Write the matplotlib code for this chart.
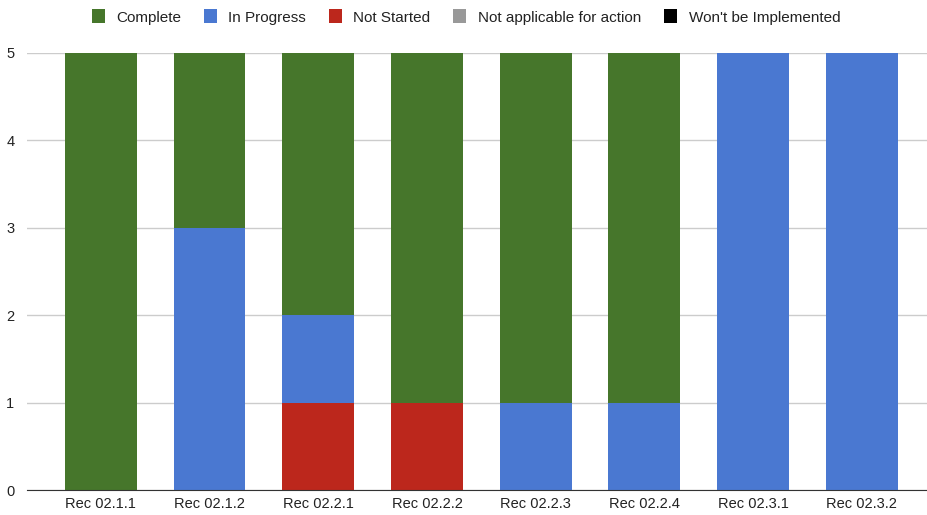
import numpy as np
import matplotlib
matplotlib.use("Agg")
import matplotlib.pyplot as plt
from matplotlib.patches import Patch

categories = ["Rec 02.1.1", "Rec 02.1.2", "Rec 02.2.1", "Rec 02.2.2",
              "Rec 02.2.3", "Rec 02.2.4", "Rec 02.3.1", "Rec 02.3.2"]
not_started = [0, 0, 1, 1, 0, 0, 0, 0]
in_progress = [0, 3, 1, 0, 1, 1, 5, 5]
complete = [5, 2, 3, 4, 4, 4, 0, 0]
not_applicable = [0, 0, 0, 0, 0, 0, 0, 0]
wont_implement = [0, 0, 0, 0, 0, 0, 0, 0]

legend_labels = ["Complete", "In Progress", "Not Started",
                 "Not applicable for action", "Won't be Implemented"]
colors = {"Complete": "#46762b", "In Progress": "#4a78d1", "Not Started": "#bc271c",
          "Not applicable for action": "#999999", "Won't be Implemented": "#000000"}

plt.rcParams["font.family"] = ["Liberation Sans", "DejaVu Sans"]

fig = plt.figure(figsize=(9.28, 5.15), dpi=100)
ax = fig.add_axes([27 / 928, 1 - 490 / 515, 1 - 27 / 928, (490 - 53) / 515])

x = np.arange(len(categories))
w = 0.66
bottom = np.zeros(len(categories))
# stacked from the bottom: red, blue, green
for name, vals in [("Not Started", not_started), ("In Progress", in_progress),
                   ("Complete", complete), ("Not applicable for action", not_applicable),
                   ("Won't be Implemented", wont_implement)]:
    vals = np.array(vals, dtype=float)
    ax.bar(x, vals, w, bottom=bottom, color=colors[name], zorder=3)
    bottom += vals

ax.set_xlim(-0.68, 7.61)
ax.set_ylim(0, 5)
ax.set_yticks(range(6))
ax.set_xticks(x)
ax.set_xticklabels(categories, fontsize=10.5, color="#222222")
ax.tick_params(axis="y", labelsize=10.5, colors="#222222", length=0, pad=9)
ax.tick_params(axis="x", length=0, pad=5)
ax.grid(axis="y", color="#cccccc", linewidth=1, zorder=0)
for s in ["top", "right", "left"]:
    ax.spines[s].set_visible(False)
ax.spines["bottom"].set_color("#333333")
ax.spines["bottom"].set_zorder(4)

handles = [Patch(facecolor=colors[l], edgecolor="none") for l in legend_labels]
fig.legend(handles, legend_labels, loc="center", bbox_to_anchor=(0.502, 1 - 17 / 515),
           ncol=5, frameon=False, fontsize=11, handlelength=0.85, handleheight=1.0,
           handletextpad=0.75, columnspacing=1.5, labelcolor="#222222")

fig.savefig("out.png", dpi=100)
